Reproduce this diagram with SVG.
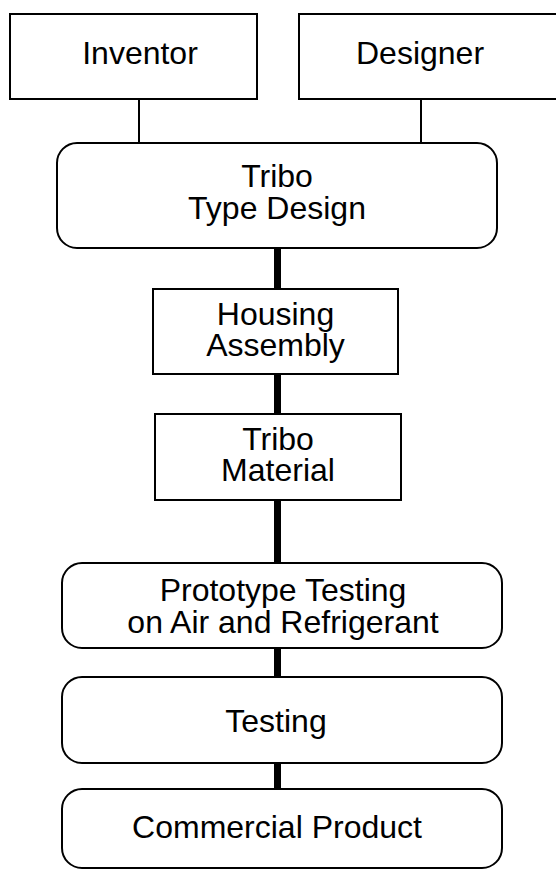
<svg xmlns="http://www.w3.org/2000/svg" width="556" height="870" viewBox="0 0 556 870">
<style>
.box{fill:#fff;stroke:#000;stroke-width:2}
.t{font-family:"Liberation Sans",Arial,sans-serif;font-size:32px;fill:#000;text-anchor:middle}
.thin{stroke:#000;stroke-width:2;fill:none}
.thick{stroke:#000;stroke-width:7;fill:none}
</style>
<rect width="556" height="870" fill="#fff"/>
<g id="connectors">
<line class="thin" x1="139" y1="99" x2="139" y2="143"/>
<line class="thin" x1="421" y1="99" x2="421" y2="143"/>
<line class="thick" x1="277.5" y1="248" x2="277.5" y2="289"/>
<line class="thick" x1="277.5" y1="374" x2="277.5" y2="414"/>
<line class="thick" x1="277.5" y1="500" x2="277.5" y2="563"/>
<line class="thick" x1="277.5" y1="648" x2="277.5" y2="677"/>
<line class="thick" x1="277.5" y1="763" x2="277.5" y2="789"/>
</g>
<g id="inventor">
<rect class="box" x="10" y="14" width="247" height="85"/>
<text class="t" x="140" y="64">Inventor</text>
</g>
<g id="designer">
<rect class="box" x="299" y="14" width="270" height="85"/>
<text class="t" x="420" y="64">Designer</text>
</g>
<g id="tribo-type-design">
<rect class="box" x="57" y="143" width="440" height="105" rx="20"/>
<text class="t" x="277" y="187">Tribo</text>
<text class="t" x="277" y="219">Type Design</text>
</g>
<g id="housing-assembly">
<rect class="box" x="153" y="289" width="245" height="85"/>
<text class="t" x="275.5" y="325">Housing</text>
<text class="t" x="275.5" y="356">Assembly</text>
</g>
<g id="tribo-material">
<rect class="box" x="155" y="414" width="246" height="86"/>
<text class="t" x="278" y="450">Tribo</text>
<text class="t" x="278" y="481">Material</text>
</g>
<g id="prototype-testing">
<rect class="box" x="62" y="563" width="440" height="85" rx="20"/>
<text class="t" x="283" y="601">Prototype Testing</text>
<text class="t" x="283" y="633">on Air and Refrigerant</text>
</g>
<g id="testing">
<rect class="box" x="62" y="677" width="440" height="86" rx="20"/>
<text class="t" x="276" y="732">Testing</text>
</g>
<g id="commercial-product">
<rect class="box" x="62" y="789" width="440" height="79" rx="20"/>
<text class="t" x="277" y="838">Commercial Product</text>
</g>
</svg>
